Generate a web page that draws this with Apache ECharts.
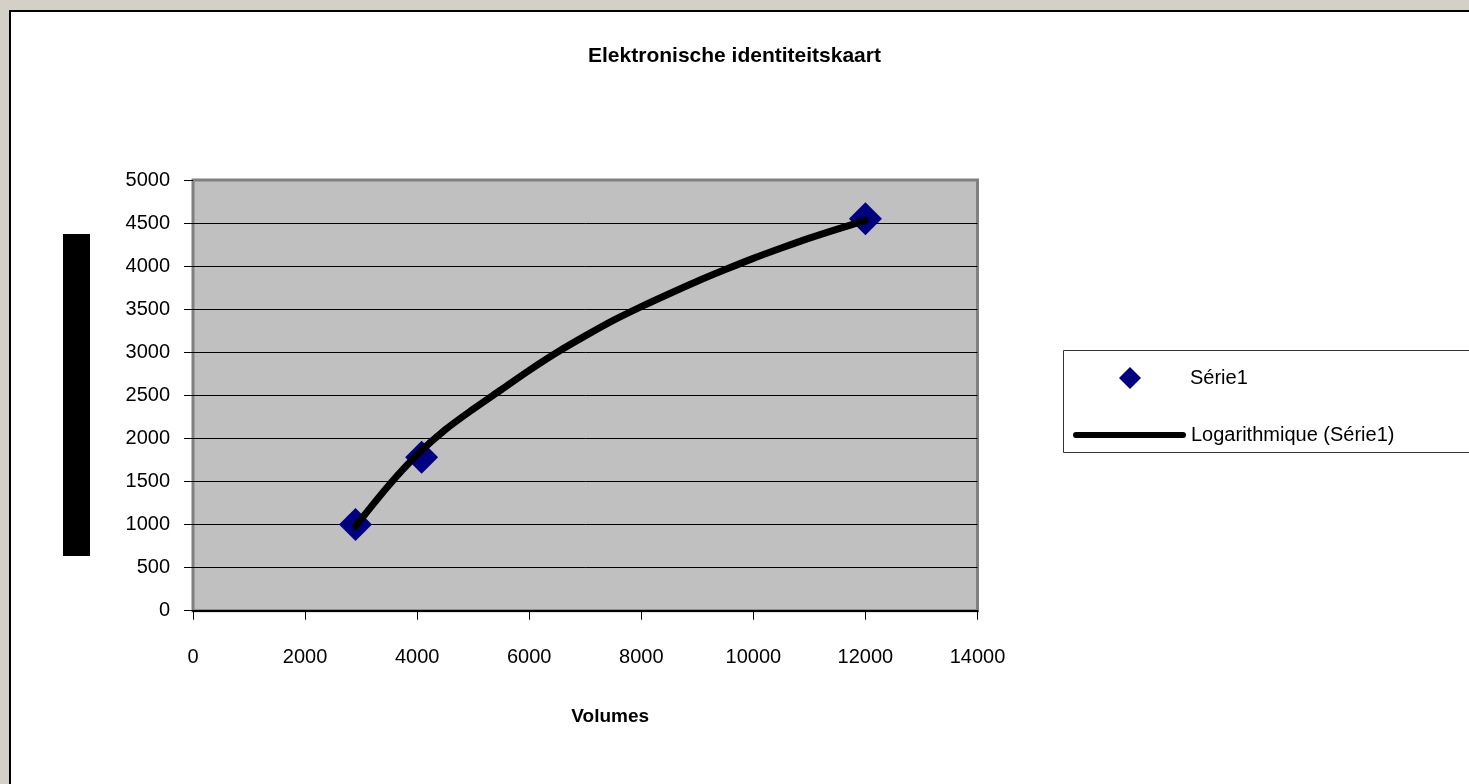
<!DOCTYPE html>
<html>
<head>
<meta charset="utf-8">
<script src="https://cdn.jsdelivr.net/npm/echarts@6/dist/echarts.min.js"></script>
<style>
html,body{margin:0;padding:0;background:#D4D0C8;}
#main{width:1469px;height:784px;}
</style>
</head>
<body>
<div id="main"></div>
<script>
// ---- data ----
const titleText = 'Elektronische identiteitskaart';
const xAxisTitle = 'Volumes';
const seriesName = 'Série1';
const trendName = 'Logarithmique (Série1)';
const pointsX = [2900, 4080, 12000];
const pointsY = [1000, 1780, 4550];
const trendX = [2900, 3500, 4000, 4500, 5000, 5500, 6000, 6500, 7000, 7500, 8000, 8500, 9000, 9500, 10000, 10500, 11000, 11500, 12000];
const trendY = [980, 1460, 1810, 2100, 2340, 2565, 2790, 3000, 3190, 3370, 3530, 3680, 3825, 3960, 4090, 4210, 4325, 4430, 4530];
const xMin = 0, xMax = 14000, xStep = 2000;
const yMin = 0, yMax = 5000, yStep = 500;

const font = '"Liberation Sans", Arial, sans-serif';
const chart = echarts.init(document.getElementById('main'), null, {renderer: 'canvas'});
const plain = v => String(v);

chart.setOption({
  backgroundColor: '#D4D0C8',
  animation: false,
  textStyle: {fontFamily: font},
  title: {
    text: titleText,
    left: 'center',
    top: 46,
    padding: [0, 0, 0, 23],
    textStyle: {fontSize: 21, fontWeight: 'bold', color: '#000', fontFamily: font}
  },
  graphic: [
    {type: 'rect', z: -100, shape: {x: 10, y: 11, width: 1500, height: 800},
     style: {fill: '#fff', stroke: '#000', lineWidth: 2}},
    {type: 'rect', z: 10, shape: {x: 63, y: 234, width: 27, height: 322},
     style: {fill: '#000'}},
    {type: 'rect', z: 10, shape: {x: 1063.5, y: 350.5, width: 500, height: 102},
     style: {fill: '#fff', stroke: '#333', lineWidth: 1}}
  ],
  grid: {
    left: 193, top: 180, right: 491.5, bottom: 173.3,
    show: true, backgroundColor: '#C0C0C0', borderColor: '#808080', borderWidth: 3
  },
  legend: [
    {
      orient: 'vertical',
      left: 1119, top: 367,
      padding: 0,
      itemWidth: 22, itemHeight: 22,
      z: 20,
      icon: 'diamond',
      data: [seriesName],
      itemStyle: {color: '#000080', opacity: 1},
      textStyle: {fontSize: 20, color: '#000', fontFamily: font, padding: [0, 0, 0, 44]}
    },
    {
      orient: 'vertical',
      left: 1073, top: 425,
      padding: 0,
      itemWidth: 113, itemHeight: 6,
      z: 20,
      icon: 'path://M3,0 L110,0 A3,3 0 0 1 110,6 L3,6 A3,3 0 0 1 3,0 Z',
      data: [trendName],
      itemStyle: {color: '#000'},
      textStyle: {fontSize: 20, color: '#000', fontFamily: font}
    }
  ],
  xAxis: {
    type: 'value', min: xMin, max: xMax, interval: xStep,
    name: xAxisTitle, nameLocation: 'middle', nameGap: 97,
    nameTextStyle: {fontSize: 19, fontWeight: 'bold', color: '#000', padding: [0, 0, 0, 50]},
    axisLine: {show: true, onZero: false, lineStyle: {color: '#000', width: 2}},
    axisTick: {show: true, inside: false, length: 9, lineStyle: {color: '#000', width: 1}},
    axisLabel: {margin: 37, fontSize: 20, color: '#000', formatter: plain},
    splitLine: {show: false}
  },
  yAxis: {
    type: 'value', min: yMin, max: yMax, interval: yStep,
    axisLine: {show: false},
    axisTick: {show: true, inside: false, length: 9, lineStyle: {color: '#000', width: 1}},
    axisLabel: {margin: 23, fontSize: 20, color: '#000', formatter: plain},
    splitLine: {show: true, showMinLine: false, showMaxLine: false, lineStyle: {color: '#000', width: 1}}
  },
  series: [
    {
      name: seriesName,
      type: 'scatter',
      symbol: 'diamond',
      symbolSize: 33,
      itemStyle: {color: '#000080', opacity: 1},
      z: 3,
      data: pointsX.map((x, i) => [x, pointsY[i]])
    },
    {
      name: trendName,
      type: 'line',
      symbol: 'none',
      showSymbol: false,
      smooth: 0.3,
      z: 4,
      itemStyle: {color: '#000'},
      lineStyle: {color: '#000', width: 7, cap: 'round', join: 'round'},
      data: trendX.map((x, i) => [x, trendY[i]])
    }
  ]
});
</script>
</body>
</html>
